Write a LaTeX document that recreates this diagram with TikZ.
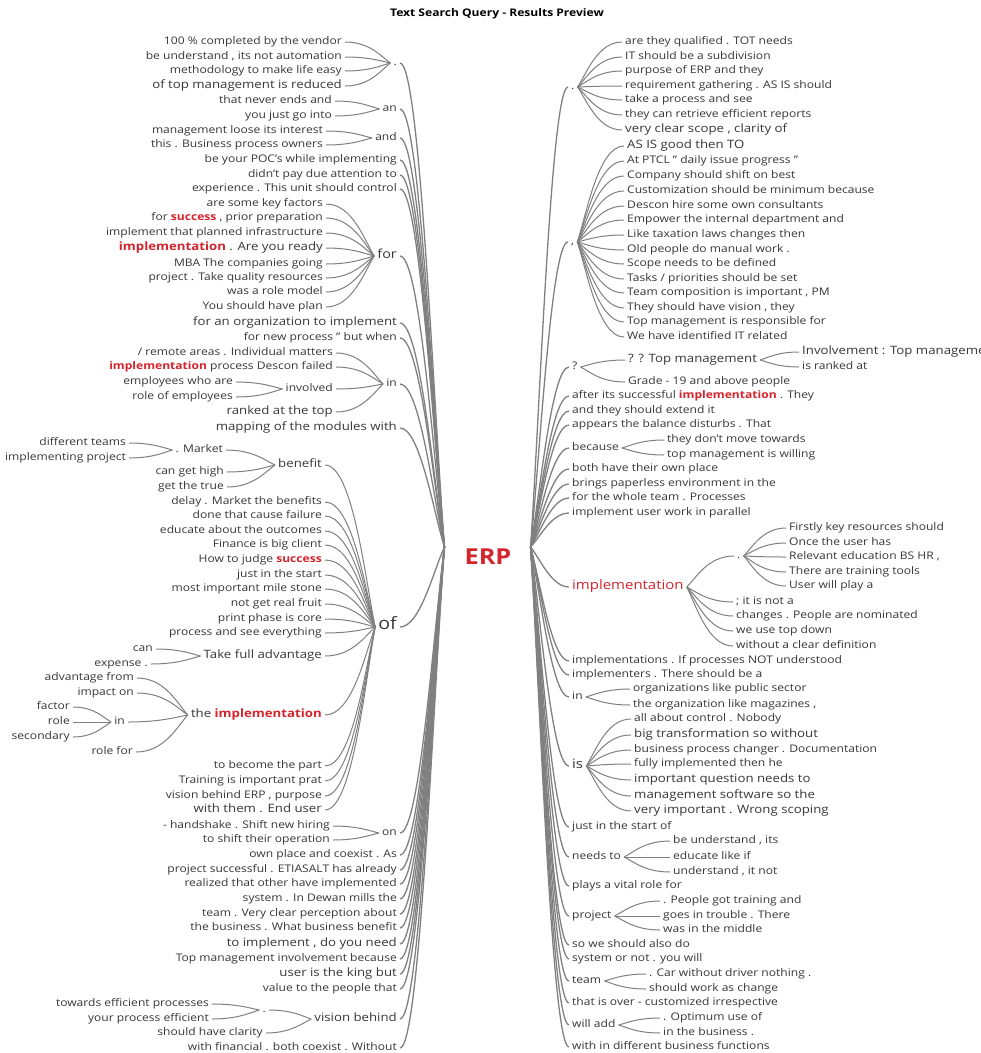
\documentclass[tikz,border=0pt]{standalone}
\usepackage{fontspec}
\setmainfont{Open Sans}[FakeStretch=1.15]
\usetikzlibrary{calc}
\definecolor{erpred}{RGB}{212,36,44}
\definecolor{txt}{RGB}{55,55,55}
\definecolor{lin}{RGB}{128,128,128}
\newcommand\hlr[1]{{\bfseries\color{erpred}#1}}
\newcommand\bgf{\fontsize{11.5}{13}\selectfont}
\newcommand\fanc[2]{\draw[fanln] let \p1=(#2), \p2=(#1) in (\p1) .. controls ({\x1+0.55*(\x2-\x1)},\y1) and ({\x2-0.2*(\x2-\x1)},{\y2+0.3*(\y1-\y2)}) .. (\p2);}
\newcommand\Lfan[2]{\fanc{[xshift=-3pt]#1.west}{[xshift=3pt]#2.east}}
\newcommand\Rfan[2]{\fanc{[xshift=3pt]#1.east}{[xshift=-3pt]#2.west}}
\newcommand\trk[2]{\draw[trunkln] let \p1=(#2), \p2=(#1) in (\p1) .. controls ({\x1+0.45*(\x2-\x1)},\y1) and ({\x2-0.25*(\x2-\x1)},{\y2+0.3*(\y1-\y2)}) .. (\p2);}
\newcommand\Ltr[1]{\trk{[xshift=-20pt,yshift=10pt]erp.west}{[xshift=3pt]#1.east}}
\newcommand\Rtr[1]{\trk{[xshift=19pt,yshift=10pt]erp.east}{[xshift=-3pt]#1.west}}
\newcommand\Lleaf[4]{\foreach \yy/\tx [count=\ii] in {#4} {\node[L] (#2\ii) at (#3,\yy) {\tx}; \Lfan{#1}{#2\ii}}}
\newcommand\Rleaf[4]{\foreach \yy/\tx [count=\ii] in {#4} {\node[R] (#2\ii) at (#3,\yy) {\tx}; \Rfan{#1}{#2\ii}}}
\begin{document}
\begin{tikzpicture}[x=1pt,y=-1pt,
  tx/.style={inner sep=0pt, text=txt, font=\fontsize{10.5}{12}\selectfont, text height=7.5pt, text depth=2.5pt},
  L/.style={tx, anchor=east},
  R/.style={tx, anchor=west},
  fanln/.style={draw=lin, line width=1pt},
  trunkln/.style={draw=lin, line width=1.3pt}]
\useasboundingbox (0,0) rectangle (981,1053);
\fill[white] (0,0) rectangle (981,1053);
\node[font=\bfseries\fontsize{10.5}{12}\selectfont, text=black, inner sep=0pt] (title) at (497,14) {Text Search Query - Results Preview};
\node[font=\bfseries\fontsize{22}{26}\selectfont, text=erpred, inner sep=0pt] (erp) at (488,557) {ERP};
% ---------------- LEFT ----------------
\node[L] (l1) at (397,63) {.};
\Lleaf{l1}{la}{342}{42/{100 \% completed by the vendor},57/{be understand , its not automation},71/{methodology to make life easy},86/{\bgf of top management is reduced}}
\node[L] (l2) at (397,109) {an};
\Lleaf{l2}{lb}{332}{101/{that never ends and},116/{you just go into}}
\node[L] (l3) at (397,138) {and};
\Lleaf{l3}{lc}{323}{131/{management loose its interest},145/{this . Business process owners}}
\node[L] (l4) at (397,160) {be your POC's while implementing};
\node[L] (l5) at (397,175) {didn't pay due attention to};
\node[L] (l6) at (397,189) {experience . This unit should control};
\node[L, font=\fontsize{12.5}{14}\selectfont] (l7) at (397,256) {for};
\Lleaf{l7}{ld}{323}{204/{are some key factors},218/{for \hlr{success} , prior preparation},233/{implement that planned infrastructure},248/{\bgf\hlr{implementation} . Are you ready},264/{MBA The companies going},278/{project . Take quality resources},292/{was a role model},307/{You should have plan}}
\node[L, font=\bgf] (l8) at (397,323) {for an organization to implement};
\node[L] (l9) at (397,338) {for new process " but when};
\node[L] (l10) at (397,384) {in};
\node[L] (l10a) at (333,353) {/ remote areas . Individual matters};
\node[L] (l10b) at (333,367) {\hlr{implementation} process Descon failed};
\node[L] (l10c) at (333,389) {involved};
\node[L, font=\bgf] (l10d) at (333,412) {ranked at the top};
\foreach \nm in {l10a,l10b,l10c,l10d} {\Lfan{l10}{\nm}}
\Lleaf{l10c}{le}{233}{382/{employees who are},397/{role of employees}}
\node[L, font=\bgf] (l11) at (397,428) {mapping of the modules with};
\node[L, font=\fontsize{17}{19}\selectfont] (l12) at (397,627) {of};
\node[L, font=\bgf] (of1) at (322,465) {benefit};
\node[L] (of1a) at (223,450) {. Market};
\Lleaf{of1a}{lf}{126}{443/{different teams},458/{implementing project}}
\node[L] (of1b) at (224,472) {can get high};
\node[L] (of1c) at (224,487) {get the true};
\foreach \nm in {of1a,of1b,of1c} {\Lfan{of1}{\nm}}
\Lfan{l12}{of1}
\Lleaf{l12}{lg}{322}{502/{delay . Market the benefits},516/{done that cause failure},531/{educate about the outcomes},545/{Finance is big client},560/{How to judge \hlr{success}},575/{just in the start},589/{most important mile stone},604/{not get real fruit},619/{print phase is core},633/{process and see everything}}
\node[L, font=\bgf] (of3) at (322,656) {Take full advantage};
\node[L] (of3a) at (153,649) {can};
\node[L] (of3b) at (148,664) {expense .};
\Lfan{of3}{of3a} \Lfan{of3}{of3b} \Lfan{l12}{of3}
\node[L, font=\bgf] (of4) at (322,715) {the \hlr{implementation}};
\node[L] (of4a) at (134,678) {advantage from};
\node[L] (of4b) at (134,693) {impact on};
\node[L] (of4c) at (125,722) {in};
\node[L] (of4d) at (133,752) {role for};
\foreach \nm in {of4a,of4b,of4c,of4d} {\Lfan{of4}{\nm}}
\Lleaf{of4c}{lh}{70}{707/{factor},722/{role},737/{secondary}}
\Lfan{l12}{of4}
\Lleaf{l12}{li}{322}{766/{to become the part},781/{Training is important prat},796/{vision behind ERP , purpose},810/{\bgf with them . End user}}
\node[L] (l13) at (397,833) {on};
\Lleaf{l13}{lj}{330}{826/{- handshake . Shift new hiring},840/{to shift their operation}}
\node[L] (l14) at (397,855) {own place and coexist . As};
\node[L] (l15) at (397,870) {project successful . ETIASALT has already};
\node[L] (l16) at (397,884) {realized that other have implemented};
\node[L] (l17) at (397,899) {system . In Dewan mills the};
\node[L] (l18) at (397,914) {team . Very clear perception about};
\node[L] (l19) at (397,928) {the business . What business benefit};
\node[L, font=\bgf] (l20) at (397,944) {to implement , do you need};
\node[L] (l21) at (397,959) {Top management involvement because};
\node[L, font=\bgf] (l22) at (397,974) {user is the king but};
\node[L] (l23) at (397,989) {value to the people that};
\node[L, font=\bgf] (l24) at (397,1019) {vision behind};
\node[L] (l24a) at (266,1010) {.};
\node[L] (l24b) at (263,1033) {should have clarity};
\Lfan{l24}{l24a} \Lfan{l24}{l24b}
\Lleaf{l24a}{lk}{209}{1004/{towards efficient processes},1019/{your process efficient}}
\node[L] (l25) at (397,1048) {with financial . both coexist . Without};
\foreach \kk in {1,...,25} {\Ltr{l\kk}}
% ---------------- RIGHT ----------------
\node[R] (r1) at (571,87) {.};
\Rleaf{r1}{ra}{625}{42/{are they qualified . TOT needs},57/{IT should be a subdivision},71/{purpose of ERP and they},86/{requirement gathering . AS IS should},100/{take a process and see},115/{they can retrieve efficient reports},130/{\bgf very clear scope , clarity of}}
\node[R] (r2) at (571,242) {,};
\Rleaf{r2}{rb}{627}{146/{\bgf AS IS good then TO},161/{At PTCL " daily issue progress "},176/{Company should shift on best},191/{Customization should be minimum because},206/{Descon hire some own consultants},220/{Empower the internal department and},235/{Like taxation laws changes then},250/{Old people do manual work .},264/{Scope needs to be defined},279/{Tasks / priorities should be set},293/{Team composition is important , PM},308/{They should have vision , they},322/{Top management is responsible for},337/{We have identified IT related}}
\node[R] (r3) at (572,367) {?};
\node[R, font=\bgf] (r3a) at (628,360) {? ? Top management};
\node[R] (r3b) at (628,382) {Grade - 19 and above people};
\Rfan{r3}{r3a} \Rfan{r3}{r3b}
\Rleaf{r3a}{rc}{802}{352/{\bgf Involvement : Top management},367/{is ranked at}}
\node[R] (r4) at (572,396) {after its successful \hlr{implementation} . They};
\node[R] (r5) at (572,411) {and they should extend it};
\node[R] (r6) at (572,425) {appears the balance disturbs . That};
\node[R] (r7) at (572,448) {because};
\Rleaf{r7}{rd}{667}{440/{they don't move towards},455/{top management is willing}}
\node[R] (r8) at (572,469) {both have their own place};
\node[R] (r9) at (572,484) {brings paperless environment in the};
\node[R] (r10) at (572,498) {for the whole team . Processes};
\node[R] (r11) at (572,513) {implement user work in parallel};
\node[R, font=\fontsize{13}{15}\selectfont, text=erpred] (r12) at (572,587) {implementation};
\node[R] (r12a) at (737,556) {.};
\Rfan{r12}{r12a}
\Rleaf{r12a}{re}{789}{528/{Firstly key resources should},543/{Once the user has},557/{Relevant education BS HR ,},572/{There are training tools},586/{User will play a}}
\Rleaf{r12}{rf}{736}{602/{; it is not a},616/{changes . People are nominated},631/{we use top down},646/{without a clear definition}}
\node[R] (r13) at (572,661) {implementations . If processes NOT understood};
\node[R] (r14) at (572,675) {implementers . There should be a};
\node[R] (r15) at (572,697) {in};
\Rleaf{r15}{rg}{633}{689/{organizations like public sector},705/{the organization like magazines ,}}
\node[R, font=\fontsize{13}{15}\selectfont] (r16) at (572,766) {is};
\Rleaf{r16}{rh}{634}{719/{all about control . Nobody},735/{\bgf big transformation so without},750/{business process changer . Documentation},764/{fully implemented then he},780/{\bgf important question needs to},796/{\bgf management software so the},811/{\bgf very important . Wrong scoping}}
\node[R] (r17) at (572,827) {just in the start of};
\node[R] (r18) at (572,857) {needs to};
\Rleaf{r18}{ri}{673}{841/{be understand , its},857/{educate like if},872/{understand , it not}}
\node[R] (r19) at (572,886) {plays a vital role for};
\node[R] (r20) at (572,916) {project};
\Rleaf{r20}{rj}{663}{901/{. People got training and},916/{goes in trouble . There},930/{was in the middle}}
\node[R] (r21) at (572,945) {so we should also do};
\node[R] (r22) at (572,959) {system or not . you will};
\node[R] (r23) at (572,981) {team};
\Rleaf{r23}{rk}{649}{974/{. Car without driver nothing .},989/{should work as change}}
\node[R] (r24) at (572,1003) {that is over - customized irrespective};
\node[R] (r25) at (572,1025) {will add};
\Rleaf{r25}{rl}{663}{1018/{. Optimum use of},1033/{in the business .}}
\node[R] (r26) at (572,1047) {with in different business functions};
\foreach \kk in {1,...,26} {\Rtr{r\kk}}
\end{tikzpicture}
\end{document}
